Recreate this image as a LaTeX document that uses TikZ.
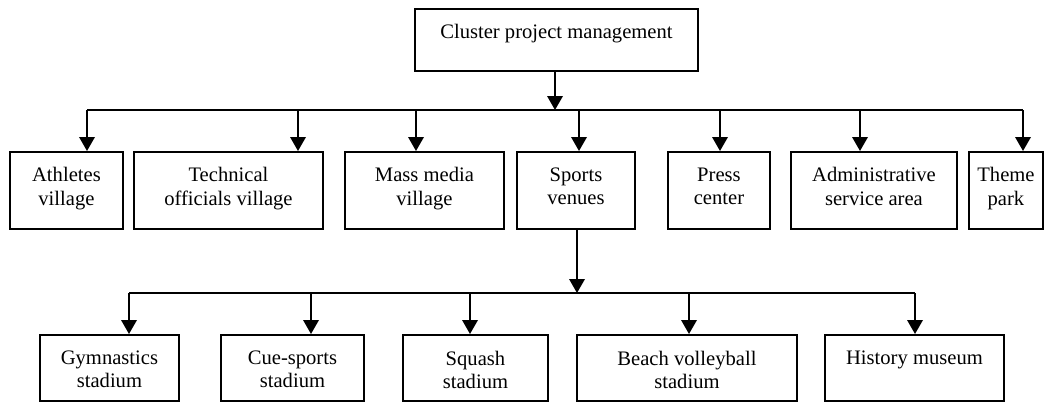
\documentclass[tikz,border=0pt]{standalone}
\usepackage{fontspec}
\setmainfont{Liberation Serif}
\usetikzlibrary{arrows.meta}
\tikzset{
  boxnode/.style={draw=black, line width=1.9pt, inner sep=0pt, anchor=north west},
  lbl/.style={anchor=north, inner sep=0pt, align=center, font=\fontsize{20.6}{23.5}\selectfont},
  arr/.style={line width=1.9pt, -{Triangle[width=15.5pt,length=14pt]}},
  busline/.style={line width=1.7pt},
}
\newcommand{\mybox}[6]{% name, x1, y1, x2, y2, text
  \node[boxnode, minimum width=#4-#2, minimum height=#5-#3] (#1) at (#2,#3) {};
  \node[lbl] (#1t) at ([yshift=-16.5pt]#1.north) {#6};
}
\begin{document}
\begin{tikzpicture}[x=1pt,y=-1pt]
\useasboundingbox (0,0) rectangle (1064,402);
% top
\mybox{top}{414}{8}{697}{70}{Cluster project management}
% row 1
\mybox{ath}{9}{151}{122}{228}{Athletes\\village}
\mybox{tech}{133}{151}{322}{228}{Technical\\officials village}
\mybox{mass}{344}{151}{503}{228}{Mass media\\village}
\mybox{sport}{516}{151}{634}{228}{Sports\\venues}
\mybox{press}{667}{151}{769}{228}{Press\\center}
\mybox{admin}{790}{151}{956}{228}{Administrative\\service area}
\mybox{theme}{968}{151}{1042}{228}{Theme\\park}
% row 2
\mybox{gym}{39}{334}{178}{400}{Gymnastics\\stadium}
\mybox{cue}{220}{334}{363}{400}{Cue-sports\\stadium}
\mybox{squash}{402}{334}{547}{400}{Squash\\stadium}
\mybox{beach}{576}{334}{796}{400}{Beach volleyball\\stadium}
\mybox{hist}{824}{334}{1003}{400}{History museum}
% bus 1
\coordinate (t0) at (555,110);
\coordinate (t1) at (87,110);
\coordinate (t2) at (298,110);
\coordinate (t3) at (416,110);
\coordinate (t4) at (579,110);
\coordinate (t5) at (720,110);
\coordinate (t6) at (860,110);
\coordinate (t7) at (1023,110);
\draw[busline] (t1) -- (t7);
\draw[arr] (top.south -| t0) -- (t0);
\draw[arr] (t1) -- (t1 |- ath.north);
\draw[arr] (t2) -- (t2 |- tech.north);
\draw[arr] (t3) -- (t3 |- mass.north);
\draw[arr] (t4) -- (t4 |- sport.north);
\draw[arr] (t5) -- (t5 |- press.north);
\draw[arr] (t6) -- (t6 |- admin.north);
\draw[arr] (t7) -- (t7 |- theme.north);
% bus 2
\coordinate (s0) at (577,293);
\coordinate (s1) at (129,293);
\coordinate (s2) at (311,293);
\coordinate (s3) at (470,293);
\coordinate (s4) at (689,293);
\coordinate (s5) at (915,293);
\draw[busline] (s1) -- (s5);
\draw[arr] (sport.south -| s0) -- (s0);
\draw[arr] (s1) -- (s1 |- gym.north);
\draw[arr] (s2) -- (s2 |- cue.north);
\draw[arr] (s3) -- (s3 |- squash.north);
\draw[arr] (s4) -- (s4 |- beach.north);
\draw[arr] (s5) -- (s5 |- hist.north);
\end{tikzpicture}
\end{document}
